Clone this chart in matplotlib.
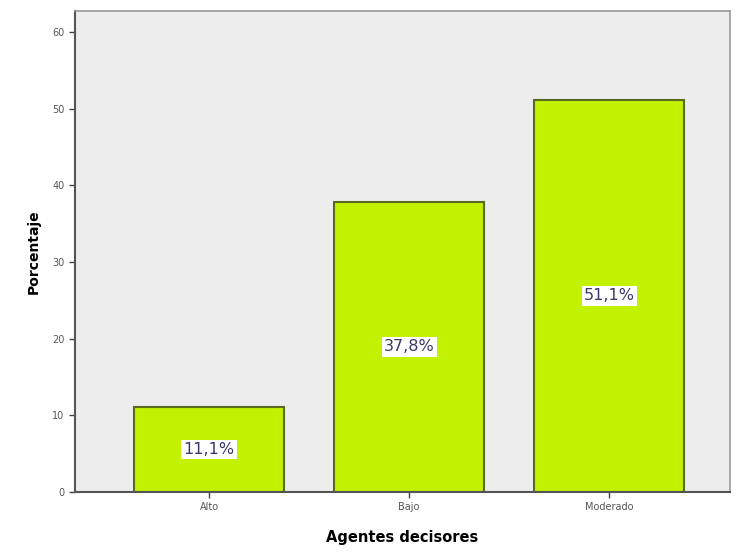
import numpy as np
import matplotlib.pyplot as plt

categories = ['Alto', 'Bajo', 'Moderado']
percentages = [11.1, 37.8, 51.1]
bar_labels = ['11,1%', '37,8%', '51,1%']
y_ticks = [0, 10, 20, 30, 40, 50, 60]

fig = plt.figure(figsize=(7.36, 5.57), dpi=100)
ax = fig.add_axes([0.102, 0.117, 0.890, 0.863])
ax.set_facecolor('#ededed')

x = np.arange(len(categories))
bars = ax.bar(x, percentages, width=0.75, color='#c2f200',
              edgecolor='#5a6a1e', linewidth=1.5, zorder=2)

for rect, lab in zip(bars, bar_labels):
    ax.text(rect.get_x() + rect.get_width() / 2, rect.get_height() / 2, lab,
            ha='center', va='center', fontsize=11.5, color='#3a3a6a',
            bbox=dict(facecolor='white', edgecolor='none', pad=1.5), zorder=3)

ax.set_xlim(-0.67, 2.605)
ax.set_ylim(0, 62.7)
ax.set_xticks(x)
ax.set_xticklabels(categories, fontsize=7, color='#555555')
ax.set_yticks(y_ticks)
ax.set_yticklabels([str(t) for t in y_ticks], fontsize=7, color='#555555')
ax.tick_params(axis='both', direction='out', length=4, width=1, color='#444444')

for side in ['left', 'bottom']:
    ax.spines[side].set_color('#555555')
    ax.spines[side].set_linewidth(1.5)
for side in ['top', 'right']:
    ax.spines[side].set_color('#999999')
    ax.spines[side].set_linewidth(1.2)

ax.set_xlabel('Agentes decisores', fontsize=10.5, fontweight='bold', labelpad=13)
ax.set_ylabel('Porcentaje', fontsize=10, fontweight='bold', labelpad=8)

fig.savefig('out.png', dpi=100)
